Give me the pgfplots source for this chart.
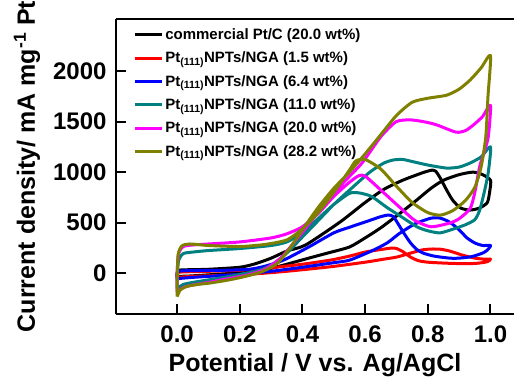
\documentclass[border=0pt]{standalone}
\usepackage{fontspec}
\setmainfont{Liberation Sans}
\usepackage{pgfplots}
\pgfplotsset{compat=1.18}
\definecolor{cteal}{RGB}{0,128,128}
\definecolor{colive}{RGB}{128,128,0}
\definecolor{cmag}{RGB}{255,0,255}
\begin{document}
\begin{tikzpicture}
\begin{axis}[name=ax, scale only axis, width=398pt, height=295pt,
  xmin=-0.195, xmax=1.075, ymin=-402, ymax=2513,
  axis x line=box, axis y line=left,
  axis line style={line width=2pt,-},
  tick align=inside, tick pos=left,
  major tick length=10pt,
  tick style={line width=2pt, black},
  xtick={0,0.2,0.4,0.6,0.8,1.0},
  ytick={0,500,1000,1500,2000},
  /pgf/number format/assume math mode=true,
  ticklabel style={font=\fontsize{24}{24}\selectfont\bfseries},
  xticklabel style={/pgf/number format/fixed,/pgf/number format/fixed zerofill,/pgf/number format/precision=1},
  yticklabel style={/pgf/number format/1000 sep={}},
  xticklabel shift=8pt,
  yticklabel shift=6pt,
  scaled ticks=false,
  xlabel={Potential / V vs. Ag/AgCl},
  ylabel={Current density/ mA mg\textsuperscript{-1} Pt},
  xlabel style={font=\fontsize{25}{25}\selectfont\bfseries},
  ylabel style={font=\fontsize{25}{25}\selectfont\bfseries},
  xlabel shift=4pt,
  ylabel shift=6pt,
  legend style={at={(axis cs:-0.15,2460)}, anchor=north west, draw=none, fill=none,
    font=\fontsize{15}{15}\selectfont\bfseries, row sep=7pt},
  legend cell align=left,
  legend image code/.code={\draw[#1, line width=3pt] (0pt,0pt) -- (27pt,0pt);},
  every axis plot/.append style={line width=3pt, smooth, tension=0.4, line join=round},
]
% commercial Pt/C
\addplot[black] coordinates {
(0,-35) (0.01,-30) (0.05,-25) (0.1,-15) (0.15,-5) (0.23,13) (0.30,50) (0.35,90) (0.42,150) (0.48,200) (0.55,260) (0.60,350) (0.65,450) (0.71,590) (0.765,725) (0.81,840) (0.85,920) (0.90,975) (0.944,1000) (0.975,975) (1.0,920)
(0.998,820) (0.99,700) (0.965,645) (0.935,625) (0.905,645) (0.88,720) (0.86,823) (0.84,940) (0.825,1010) (0.815,1020) (0.80,1010) (0.78,990) (0.72,920) (0.66,830) (0.60,700) (0.52,507) (0.41,280) (0.35,220) (0.30,150) (0.25,95) (0.20,60) (0.10,40) (0.03,35) (0.005,30) (0,0) (0,-35)
};
\addlegendentry{commercial Pt/C (20.0 wt\%)}
% 1.5 wt%
\addplot[red] coordinates {
(0,-40) (0.05,-30) (0.15,-20) (0.25,-5) (0.35,20) (0.49,65) (0.6,110) (0.66,140) (0.70,160) (0.74,195) (0.78,230) (0.81,240) (0.84,238) (0.87,220) (0.91,180) (0.95,150) (0.98,140) (1.0,140)
(0.99,115) (0.96,100) (0.92,95) (0.86,100) (0.80,110) (0.77,125) (0.745,160) (0.72,215) (0.70,245) (0.685,250) (0.65,235) (0.60,210) (0.55,170) (0.49,131) (0.40,90) (0.30,55) (0.2,30) (0.1,20) (0.03,15) (0.005,10) (0,-10) (0,-40)
};
\addlegendentry{Pt\textsubscript{(111)}NPTs/NGA (1.5 wt\%)}
% 6.4 wt%
\addplot[blue] coordinates {
(0,-55) (0.01,-50) (0.05,-40) (0.1,-30) (0.2,-10) (0.3,20) (0.4,60) (0.5,105) (0.55,130) (0.62,220) (0.67,300) (0.71,395) (0.76,490) (0.81,545) (0.84,545) (0.87,505) (0.90,430) (0.925,350) (0.95,300) (0.975,275) (1.0,275)
(0.99,230) (0.975,200) (0.94,165) (0.90,150) (0.87,150) (0.82,170) (0.785,200) (0.765,235) (0.745,300) (0.725,390) (0.705,490) (0.69,560) (0.675,576) (0.65,560) (0.60,507) (0.55,455) (0.50,400) (0.42,260) (0.34,131) (0.28,70) (0.23,40) (0.15,30) (0.08,28) (0.02,25) (0.005,20) (0,0) (0,-55)
};
\addlegendentry{Pt\textsubscript{(111)}NPTs/NGA (6.4 wt\%)}
% 11.0 wt%
\addplot[cteal] coordinates {
(0,-150) (0.02,-110) (0.05,-90) (0.1,-65) (0.15,-40) (0.25,20) (0.30,80) (0.35,200) (0.40,360) (0.45,520) (0.5,680) (0.56,850) (0.615,1000) (0.66,1090) (0.69,1120) (0.72,1125) (0.75,1105) (0.80,1070) (0.86,1040) (0.90,1050) (0.935,1090) (0.97,1150) (1.0,1250)
(0.993,1000) (0.98,800) (0.965,620) (0.95,530) (0.92,480) (0.89,447) (0.84,400) (0.80,420) (0.765,460) (0.72,550) (0.67,650) (0.62,760) (0.58,795) (0.55,790) (0.50,680) (0.45,540) (0.40,400) (0.35,310) (0.30,275) (0.20,245) (0.10,225) (0.05,210) (0.02,195) (0.005,130) (0,-50) (0,-150)
};
\addlegendentry{Pt\textsubscript{(111)}NPTs/NGA (11.0 wt\%)}
% 20.0 wt%
\addplot[cmag] coordinates {
(0,-185) (0.02,-140) (0.05,-115) (0.1,-90) (0.15,-60) (0.22,-20) (0.28,40) (0.33,150) (0.38,330) (0.45,600) (0.52,860) (0.59,1090) (0.65,1350) (0.70,1500) (0.75,1515) (0.80,1490) (0.83,1465) (0.89,1395) (0.92,1410) (0.945,1465) (0.975,1550) (1.0,1660)
(0.993,1350) (0.98,1200) (0.965,1050) (0.95,800) (0.935,640) (0.90,540) (0.87,497) (0.81,460) (0.76,520) (0.72,625) (0.65,823) (0.60,960) (0.58,965) (0.55,900) (0.50,760) (0.45,590) (0.40,460) (0.35,390) (0.30,350) (0.20,310) (0.10,290) (0.05,280) (0.02,265) (0.005,200) (0,0) (0,-185)
};
\addlegendentry{Pt\textsubscript{(111)}NPTs/NGA (20.0 wt\%)}
% 28.2 wt%
\addplot[colive] coordinates {
(0.0,-230) (0.01,-165) (0.03,-130) (0.07,-108) (0.105,-96) (0.16,-68) (0.21,-36) (0.27,15) (0.32,100) (0.36,250) (0.40,430) (0.45,650) (0.50,840) (0.55,1000) (0.60,1180) (0.65,1370) (0.70,1560) (0.75,1690) (0.80,1730) (0.86,1760) (0.90,1820) (0.935,1910) (0.97,2030) (1.0,2150)
(0.992,1750) (0.985,1350) (0.97,1050) (0.95,850) (0.92,720) (0.88,620) (0.84,575) (0.80,600) (0.75,700) (0.70,860) (0.65,1030) (0.60,1125) (0.57,1110) (0.55,1020) (0.50,800) (0.45,600) (0.40,440) (0.35,330) (0.28,285) (0.20,265) (0.10,275) (0.04,290) (0.015,270) (0.003,180) (0.0,-100) (0.0,-230)
};
\addlegendentry{Pt\textsubscript{(111)}NPTs/NGA (28.2 wt\%)}
\end{axis}
\pgfresetboundingbox
\path ([xshift=-116pt,yshift=-67pt]ax.south west) rectangle ([yshift=19pt]ax.north east);
\end{tikzpicture}
\end{document}
